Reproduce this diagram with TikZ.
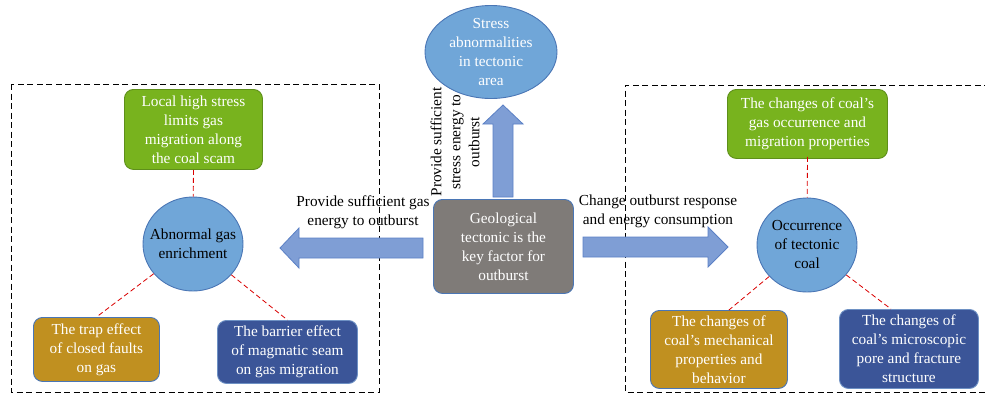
\documentclass[tikz,border=0pt]{standalone}
\usepackage{fontspec}
\setmainfont{Liberation Serif}
\usetikzlibrary{calc,shapes.geometric}
\definecolor{cgreen}{HTML}{78B31E}
\definecolor{cgreenB}{HTML}{5E8F1A}
\definecolor{cgold}{HTML}{C09020}
\definecolor{cnavy}{HTML}{3B5598}
\definecolor{clight}{HTML}{70A6D8}
\definecolor{cgray}{HTML}{7F7B78}
\definecolor{cborder}{HTML}{4A76B5}
\definecolor{carrow}{HTML}{7F9ED5}
\definecolor{carrowB}{HTML}{5B80C5}
\begin{document}
\begin{tikzpicture}[x=1pt,y=-1pt,
  txt/.style={font=\fontsize{15.3}{19}\selectfont, align=center, inner sep=0pt},
  rbox/.style={txt, draw, rounded corners=9pt, line width=0.9pt, text=white, anchor=north west},
  circ/.style={txt, ellipse, draw=cborder, fill=clight, line width=0.9pt},
  rdash/.style={draw=red!85!black, line width=0.8pt, dash pattern=on 5pt off 3pt},
  kdash/.style={draw=black, line width=1pt, dash pattern=on 6pt off 3.5pt},
  barrow/.style={fill=carrow, draw=carrowB, line width=0.8pt},
  lab/.style={txt, text=black}
]
\useasboundingbox (0,0) rectangle (985,394);

% dashed frames
\draw[kdash] (11,84) rectangle (379,392);
\draw[kdash] (990,85) -- (625,85) -- (625,392) -- (990,392);

% left group
\node[rbox, fill=cgreen, draw=cgreenB, minimum width=138pt, minimum height=80pt] (gl) at (124,89) {};
\node[txt, text=white] at (gl.center) {Local high stress\\limits gas\\migration along\\the coal scam};
\node[circ, minimum width=100pt, minimum height=94pt] (cl) at (193,244) {};
\node[txt] at (cl.center) {Abnormal gas\\enrichment};
\node[rbox, fill=cgold, draw=cborder, minimum width=126pt, minimum height=64pt] (tl) at (33,317) {};
\node[txt, text=white] at (tl.center) {The trap effect\\of closed faults\\on gas};
\node[rbox, fill=cnavy, draw=cborder!80!white, minimum width=140pt, minimum height=63pt] (bl) at (217,320) {};
\node[txt, text=white] at (bl.center) {The barrier effect\\of magmatic seam\\on gas migration};
\draw[rdash] (gl.south) -- (cl);
\draw[rdash] (cl) -- (tl.north);
\draw[rdash] (cl) -- (bl.north);

% center
\node[circ, minimum width=132pt, minimum height=93pt] (st) at (491,52) {};
\node[txt, text=white] at (st.center) {Stress\\abnormalities\\in tectonic\\area};
\node[rbox, fill=cgray, draw=cborder, minimum width=140pt, minimum height=94pt] (gk) at (433,199) {};
\node[txt, text=white] at (gk.center) {Geological\\tectonic is the\\key factor for\\outburst};

% up arrow
\coordinate (upT) at (503,105);
\draw[barrow] (493,197) -- (493,124) -- (483,124) -- (upT) -- (523,124) -- (513,124) -- (513,197) -- cycle;
\node[lab, rotate=90] (lup) at (455,142) {Provide sufficient\\stress energy to\\outburst};

% left arrow
\coordinate (lfT) at (280,248);
\draw[barrow] (423,238) -- (299,238) -- (299,228) -- (lfT) -- (299,268) -- (299,258) -- (423,258) -- cycle;
\node[lab] (llf) at (363,212) {Provide sufficient gas\\energy to outburst};

% right arrow
\coordinate (rtT) at (728,247);
\draw[barrow] (583,237) -- (708,237) -- (708,227) -- (rtT) -- (708,267) -- (708,257) -- (583,257) -- cycle;
\node[lab] (lrt) at (658,211) {Change outburst response\\and energy consumption};

% right group
\node[rbox, fill=cgreen, draw=cgreenB, minimum width=160pt, minimum height=69pt] (gr) at (727,89) {};
\node[txt, text=white] at (gr.center) {The changes of coal’s\\gas occurrence and\\migration properties};
\node[circ, minimum width=100pt, minimum height=94pt] (cr) at (807,245) {};
\node[txt] at (cr.center) {Occurrence\\of tectonic\\coal};
\node[rbox, fill=cgold, draw=cborder, minimum width=137pt, minimum height=78pt] (tr) at (650,310) {};
\node[txt, text=white] at (tr.center) {The changes of\\coal’s mechanical\\properties and\\behavior};
\node[rbox, fill=cnavy, draw=cborder!80!white, minimum width=139pt, minimum height=79pt] (br) at (839,309) {};
\node[txt, text=white] at (br.center) {The changes of\\coal’s microscopic\\pore and fracture\\structure};
\draw[rdash] ([yshift=2pt]gr.south) -- (cr);
\draw[rdash] (cr) -- ([xshift=10pt]tr.north);
\draw[rdash] (cr) -- ([xshift=-18pt]br.north);
\end{tikzpicture}
\end{document}
